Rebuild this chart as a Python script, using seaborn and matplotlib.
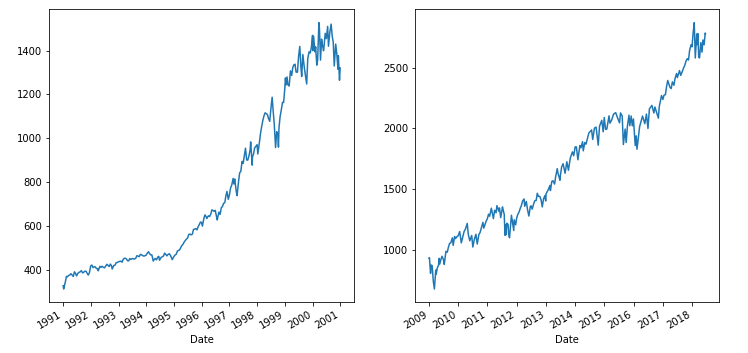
import pandas as pd
import seaborn as sns
import matplotlib.pyplot as plt
import matplotlib.dates as mdates

# S&P 500 close, 1991-2000
dates_90s = [
    "1991-01-02", "1991-01-09", "1991-01-31", "1991-02-15", "1991-02-28", "1991-03-15", "1991-03-31",
    "1991-04-15", "1991-04-30", "1991-05-15", "1991-05-31", "1991-06-15", "1991-06-28", "1991-07-15",
    "1991-07-31", "1991-08-15", "1991-08-30", "1991-09-15", "1991-09-30", "1991-10-15", "1991-10-31",
    "1991-11-15", "1991-11-29", "1991-12-13", "1991-12-31",
    "1992-01-15", "1992-01-31", "1992-02-14", "1992-02-28", "1992-03-16", "1992-03-31", "1992-04-08",
    "1992-04-30", "1992-05-15", "1992-05-29", "1992-06-15", "1992-06-30", "1992-07-15", "1992-07-31",
    "1992-08-14", "1992-08-31", "1992-09-15", "1992-09-30", "1992-10-09", "1992-10-30", "1992-11-16",
    "1992-11-30", "1992-12-15", "1992-12-31",
    "1993-01-15", "1993-01-29", "1993-02-16", "1993-02-26", "1993-03-15", "1993-03-31", "1993-04-15",
    "1993-04-30", "1993-05-14", "1993-05-28", "1993-06-15", "1993-06-30", "1993-07-15", "1993-07-30",
    "1993-08-16", "1993-08-31", "1993-09-15", "1993-09-30", "1993-10-15", "1993-10-29", "1993-11-15",
    "1993-11-30", "1993-12-15", "1993-12-31",
    "1994-01-14", "1994-01-31", "1994-02-15", "1994-02-28", "1994-03-15", "1994-03-31", "1994-04-04",
    "1994-04-15", "1994-04-29", "1994-05-16", "1994-05-31", "1994-06-15", "1994-06-24", "1994-07-15",
    "1994-07-29", "1994-08-15", "1994-08-31", "1994-09-15", "1994-09-30", "1994-10-14", "1994-10-31",
    "1994-11-15", "1994-11-30", "1994-12-08", "1994-12-30",
    "1995-01-13", "1995-01-31", "1995-02-15", "1995-02-28", "1995-03-15", "1995-03-31", "1995-04-13",
    "1995-04-28", "1995-05-15", "1995-05-31", "1995-06-15", "1995-06-30", "1995-07-14", "1995-07-31",
    "1995-08-15", "1995-08-31", "1995-09-15", "1995-09-29", "1995-10-16", "1995-10-31", "1995-11-15",
    "1995-11-30", "1995-12-15", "1995-12-29",
    "1996-01-10", "1996-01-31", "1996-02-13", "1996-02-29", "1996-03-08", "1996-03-29", "1996-04-15",
    "1996-04-30", "1996-05-15", "1996-05-31", "1996-06-14", "1996-06-28", "1996-07-05", "1996-07-24",
    "1996-07-31", "1996-08-15", "1996-08-30", "1996-09-16", "1996-09-30", "1996-10-15", "1996-10-31",
    "1996-11-15", "1996-11-29", "1996-12-16", "1996-12-31",
    "1997-01-15", "1997-01-31", "1997-02-18", "1997-02-28", "1997-03-11", "1997-03-31", "1997-04-11",
    "1997-04-30", "1997-05-15", "1997-05-30", "1997-06-16", "1997-06-30", "1997-07-15", "1997-07-31",
    "1997-08-15", "1997-08-29", "1997-09-15", "1997-09-30", "1997-10-07", "1997-10-27", "1997-10-31",
    "1997-11-14", "1997-11-28", "1997-12-15", "1997-12-31",
    "1998-01-09", "1998-01-30", "1998-02-13", "1998-02-27", "1998-03-16", "1998-03-31", "1998-04-15",
    "1998-04-30", "1998-05-15", "1998-05-29", "1998-06-15", "1998-06-30", "1998-07-17", "1998-07-31",
    "1998-08-14", "1998-08-31", "1998-09-15", "1998-09-30", "1998-10-08", "1998-10-15", "1998-10-30",
    "1998-11-13", "1998-11-30", "1998-12-15", "1998-12-31",
    "1999-01-08", "1999-01-15", "1999-01-29", "1999-02-09", "1999-02-26", "1999-03-15", "1999-03-31",
    "1999-04-15", "1999-04-30", "1999-05-14", "1999-05-28", "1999-06-15", "1999-06-30", "1999-07-16",
    "1999-07-30", "1999-08-10", "1999-08-25", "1999-09-15", "1999-09-30", "1999-10-15", "1999-10-29",
    "1999-11-15", "1999-11-30", "1999-12-15", "1999-12-31",
    "2000-01-04", "2000-01-14", "2000-01-31", "2000-02-10", "2000-02-25", "2000-03-07", "2000-03-24",
    "2000-03-31", "2000-04-14", "2000-04-28", "2000-05-12", "2000-05-24", "2000-05-31", "2000-06-15",
    "2000-06-30", "2000-07-17", "2000-07-28", "2000-08-15", "2000-08-31", "2000-09-01", "2000-09-15",
    "2000-09-29", "2000-10-12", "2000-10-31", "2000-11-15", "2000-11-30", "2000-12-05", "2000-12-20",
    "2000-12-29",
]
close_90s = [
    326.5, 311.5, 343.9, 369.1, 367.1, 373.6, 375.2, 381.2, 375.3, 368.6, 389.8, 382.3, 371.2, 383.0,
    387.8, 389.9, 395.4, 385.0, 387.9, 392.8, 392.5, 382.6, 375.2, 384.5, 417.1,
    420.8, 408.8, 412.5, 412.7, 405.2, 403.7, 394.5, 414.9, 410.1, 415.4, 410.3, 408.1, 415.6, 424.2,
    419.9, 414.0, 425.3, 417.8, 402.7, 418.7, 420.7, 431.4, 432.6, 435.7,
    437.2, 438.8, 433.9, 443.4, 451.4, 451.7, 448.4, 440.2, 440.0, 450.2, 446.3, 450.5, 449.2, 448.1,
    452.4, 463.6, 461.6, 458.9, 469.5, 467.8, 463.8, 461.8, 463.3, 466.5,
    474.9, 481.6, 472.5, 467.1, 467.4, 445.8, 438.9, 446.2, 450.9, 444.5, 456.5, 460.6, 442.8, 455.2,
    458.3, 461.9, 475.5, 468.8, 462.7, 469.1, 472.4, 465.0, 453.7, 445.5, 459.3,
    465.9, 470.4, 484.6, 487.4, 489.6, 500.7, 509.2, 514.7, 525.6, 533.4, 539.8, 544.8, 560.3, 562.1,
    558.6, 561.9, 583.4, 584.4, 587.3, 581.5, 596.0, 605.4, 616.9, 615.9,
    598.5, 636.0, 649.9, 640.4, 633.5, 645.5, 642.5, 654.2, 673.0, 669.1, 665.9, 670.6, 657.4, 626.7,
    640.0, 662.3, 652.0, 683.9, 687.3, 702.6, 705.3, 737.6, 757.0, 720.9, 740.7,
    772.5, 786.2, 816.3, 790.8, 813.7, 757.1, 737.7, 801.3, 841.9, 848.3, 893.9, 885.1, 918.4, 954.3,
    900.8, 899.5, 919.8, 947.3, 983.1, 877.0, 914.6, 928.4, 955.4, 963.4, 970.4,
    927.7, 980.3, 1020.1, 1049.3, 1080.5, 1101.8, 1115.8, 1111.8, 1108.7, 1090.8, 1077.0, 1133.8,
    1186.8, 1120.7, 1062.8, 957.3, 1029.7, 1017.0, 959.4, 1047.5, 1098.7, 1125.7, 1163.6, 1162.8, 1229.2,
    1275.1, 1243.3, 1279.6, 1243.8, 1238.3, 1307.3, 1286.4, 1322.9, 1335.2, 1337.8, 1301.8, 1301.2,
    1372.7, 1418.8, 1328.7, 1281.4, 1381.8, 1318.5, 1282.7, 1247.4, 1362.9, 1394.4, 1388.9, 1413.3, 1469.3,
    1399.4, 1465.2, 1394.5, 1416.8, 1333.4, 1355.6, 1527.5, 1498.6, 1356.6, 1452.4, 1420.0, 1399.1,
    1420.6, 1478.7, 1454.6, 1510.5, 1419.9, 1484.4, 1517.7, 1520.8, 1465.8, 1436.5, 1329.8, 1429.4,
    1382.9, 1315.0, 1376.5, 1264.7, 1320.3,
]

# S&P 500 close, 2009-2018
dates_10s = [
    "2009-01-02", "2009-01-06", "2009-01-20", "2009-01-28", "2009-02-09", "2009-02-23", "2009-03-09",
    "2009-03-26", "2009-03-31", "2009-04-15", "2009-04-30", "2009-05-08", "2009-05-15", "2009-05-29",
    "2009-06-12", "2009-06-30", "2009-07-10", "2009-07-31", "2009-08-17", "2009-08-31", "2009-09-15",
    "2009-09-30", "2009-10-19", "2009-10-30", "2009-11-16", "2009-11-27", "2009-12-15", "2009-12-31",
    "2010-01-19", "2010-02-08", "2010-02-26", "2010-03-15", "2010-03-31", "2010-04-23", "2010-05-06",
    "2010-05-25", "2010-06-18", "2010-07-02", "2010-07-20", "2010-08-09", "2010-08-26", "2010-09-15",
    "2010-09-30", "2010-10-15", "2010-11-05", "2010-11-16", "2010-12-15", "2010-12-31",
    "2011-01-14", "2011-01-28", "2011-02-18", "2011-03-16", "2011-03-31", "2011-04-18", "2011-04-29",
    "2011-05-23", "2011-05-31", "2011-06-15", "2011-06-30", "2011-07-07", "2011-07-29", "2011-08-08",
    "2011-08-15", "2011-08-19", "2011-08-31", "2011-09-15", "2011-09-22", "2011-10-03", "2011-10-27",
    "2011-11-25", "2011-11-30", "2011-12-19", "2011-12-30",
    "2012-01-13", "2012-01-31", "2012-02-15", "2012-02-29", "2012-03-15", "2012-04-02", "2012-04-10",
    "2012-04-30", "2012-05-15", "2012-06-01", "2012-06-19", "2012-06-29", "2012-07-12", "2012-07-31",
    "2012-08-15", "2012-08-31", "2012-09-14", "2012-09-28", "2012-10-15", "2012-10-31", "2012-11-15",
    "2012-11-30", "2012-12-18", "2012-12-28",
    "2013-01-02", "2013-01-31", "2013-02-19", "2013-02-25", "2013-03-14", "2013-03-29", "2013-04-18",
    "2013-04-30", "2013-05-21", "2013-05-31", "2013-06-24", "2013-06-28", "2013-07-15", "2013-08-02",
    "2013-08-27", "2013-09-18", "2013-10-08", "2013-10-31", "2013-11-27", "2013-12-13", "2013-12-31",
    "2014-01-15", "2014-02-03", "2014-02-28", "2014-03-14", "2014-04-02", "2014-04-11", "2014-04-30",
    "2014-05-15", "2014-06-20", "2014-07-24", "2014-08-07", "2014-08-29", "2014-09-18", "2014-10-15",
    "2014-10-31", "2014-11-28", "2014-12-16", "2014-12-29",
    "2015-01-15", "2015-01-30", "2015-02-27", "2015-03-10", "2015-03-31", "2015-04-24", "2015-05-21",
    "2015-06-15", "2015-07-08", "2015-07-20", "2015-08-10", "2015-08-25", "2015-09-16", "2015-09-29",
    "2015-10-15", "2015-11-03", "2015-11-13", "2015-12-01", "2015-12-14", "2015-12-29",
    "2016-01-20", "2016-02-01", "2016-02-11", "2016-03-15", "2016-04-20", "2016-05-19", "2016-06-08",
    "2016-06-27", "2016-07-15", "2016-08-15", "2016-09-09", "2016-09-22", "2016-11-04", "2016-11-15",
    "2016-12-13", "2016-12-30",
    "2017-01-13", "2017-01-31", "2017-02-15", "2017-03-01", "2017-03-27", "2017-04-13", "2017-04-28",
    "2017-05-17", "2017-05-31", "2017-06-19", "2017-06-29", "2017-07-26", "2017-08-10", "2017-08-31",
    "2017-09-15", "2017-09-29", "2017-10-16", "2017-10-31", "2017-11-15", "2017-11-30", "2017-12-18",
    "2017-12-29",
    "2018-01-12", "2018-01-26", "2018-02-08", "2018-02-26", "2018-03-02", "2018-03-12", "2018-03-23",
    "2018-04-02", "2018-04-18", "2018-05-03", "2018-05-14", "2018-05-29", "2018-06-12", "2018-06-15",
]
close_10s = [
    931.8, 934.7, 805.2, 874.1, 869.9, 743.3, 676.5, 832.9, 797.9, 852.1, 872.8, 929.2, 882.9, 919.1,
    946.2, 919.3, 879.1, 987.5, 979.7, 1020.6, 1052.6, 1057.1, 1097.9, 1036.2, 1109.3, 1091.5, 1107.9, 1115.1,
    1150.2, 1056.7, 1104.5, 1150.5, 1169.4, 1217.3, 1128.2, 1074.0, 1117.5, 1022.6, 1083.5, 1127.8,
    1047.2, 1125.1, 1141.2, 1176.2, 1225.9, 1178.3, 1235.2, 1257.6,
    1293.2, 1276.3, 1343.0, 1256.9, 1325.8, 1305.1, 1363.6, 1317.4, 1345.2, 1265.4, 1320.6, 1353.2,
    1292.3, 1119.5, 1204.5, 1123.5, 1218.9, 1209.1, 1129.6, 1099.2, 1284.6, 1158.7, 1247.0, 1205.4, 1257.6,
    1289.1, 1312.4, 1343.2, 1365.7, 1402.6, 1419.0, 1358.6, 1397.9, 1330.7, 1278.0, 1357.9, 1362.2,
    1334.8, 1379.3, 1405.5, 1406.6, 1465.8, 1440.7, 1440.1, 1412.2, 1353.3, 1416.2, 1446.8, 1402.4,
    1462.4, 1498.1, 1530.9, 1487.9, 1563.2, 1569.2, 1541.6, 1597.6, 1669.2, 1630.7, 1573.1, 1606.3,
    1682.5, 1709.7, 1630.5, 1725.5, 1655.5, 1756.5, 1807.2, 1775.3, 1848.4,
    1848.4, 1741.9, 1859.5, 1841.1, 1890.9, 1815.7, 1884.0, 1870.9, 1962.9, 1988.0, 1909.6, 2003.4,
    2011.4, 1862.5, 2018.1, 2067.6, 1972.7, 2090.6,
    1992.7, 1995.0, 2104.5, 2044.2, 2067.9, 2117.7, 2130.8, 2084.4, 2046.7, 2128.3, 2104.2, 1867.6,
    1995.3, 1884.1, 2023.9, 2109.8, 2023.0, 2102.6, 2021.9, 2078.4,
    1859.3, 1939.4, 1829.1, 2015.9, 2102.4, 2040.0, 2119.1, 2000.5, 2161.7, 2190.2, 2127.8, 2177.2,
    2085.2, 2180.4, 2271.7, 2238.8,
    2274.6, 2278.9, 2349.3, 2396.0, 2341.6, 2329.0, 2384.2, 2357.0, 2411.8, 2453.5, 2419.7, 2477.8,
    2438.2, 2471.7, 2500.2, 2519.4, 2557.6, 2575.3, 2564.6, 2647.6, 2690.2, 2673.6,
    2786.2, 2872.9, 2581.0, 2779.6, 2691.3, 2783.0, 2588.3, 2581.9, 2708.6, 2629.7, 2730.1, 2689.9,
    2786.9, 2779.7,
]

df_90s = pd.DataFrame({"Date": pd.to_datetime(dates_90s), "Close": close_90s})
df_10s = pd.DataFrame({"Date": pd.to_datetime(dates_10s), "Close": close_10s})

fig = plt.figure(figsize=(748 / 72, 353 / 72), dpi=72)
ax1 = fig.add_axes([0.0659, 0.1436, 0.4074, 0.830])
ax2 = fig.add_axes([0.5552, 0.1436, 0.4064, 0.830])

for ax, df in [(ax1, df_90s), (ax2, df_10s)]:
    sns.lineplot(data=df, x="Date", y="Close", ax=ax, color="#1f77b4", linewidth=1.5)
    ax.set_ylabel("")
    ax.set_xlabel("Date")
    ax.xaxis.set_major_locator(mdates.YearLocator())
    ax.xaxis.set_major_formatter(mdates.DateFormatter("%Y"))
    for lbl in ax.get_xticklabels():
        lbl.set_rotation(30)
        lbl.set_ha("right")

fig.savefig("out.png", dpi=72)
